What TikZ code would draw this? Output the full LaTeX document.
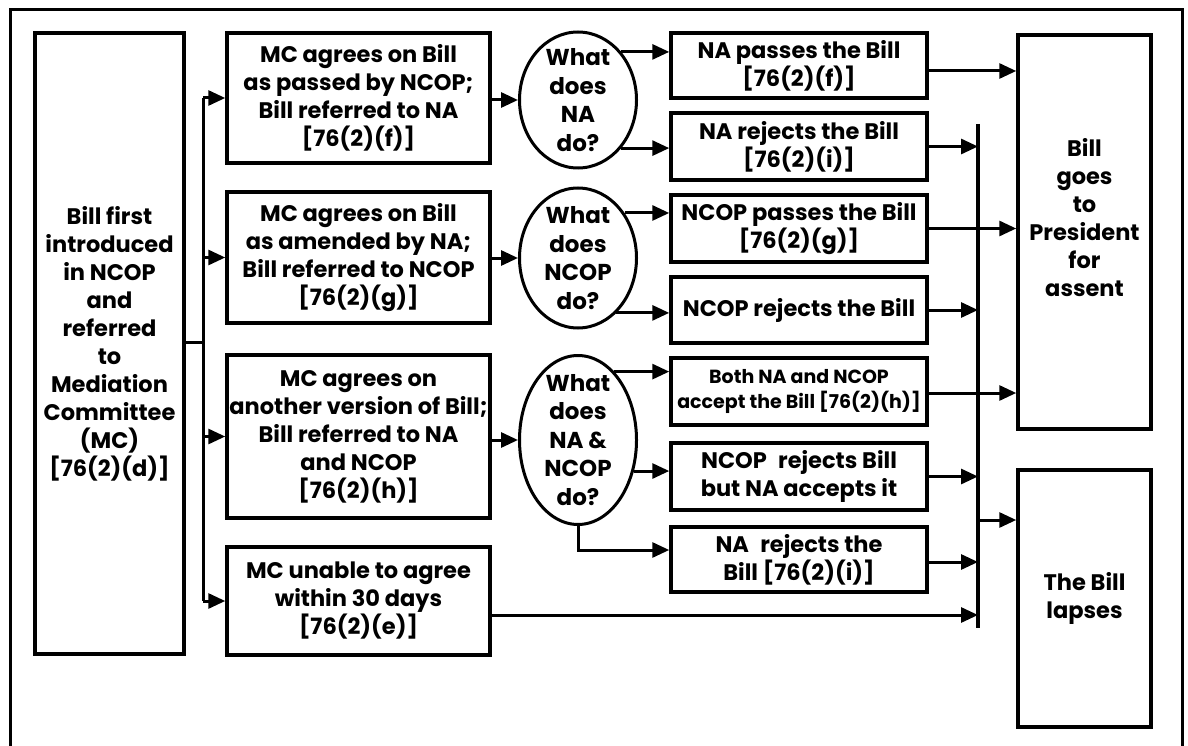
\documentclass[tikz,border=0pt]{standalone}
\usepackage{fontspec}
\setmainfont{Poppins}
\usetikzlibrary{shapes.geometric, arrows.meta, calc}

\begin{document}
\begin{tikzpicture}[
    x=1pt, y=-1pt,
    box/.style={rectangle, draw, line width=3.5pt, align=center, inner sep=0pt,
                font=\bfseries\fontsize{22.5}{28}\selectfont},
    outbox/.style={box, minimum width=256pt, minimum height=66pt},
    mcbox/.style={box, minimum width=263pt},
    query/.style={ellipse, draw, line width=3pt, align=center, inner sep=-12pt,
                  minimum width=117pt, font=\bfseries\fontsize{23}{28.5}\selectfont},
    arrow/.style={-{Triangle[length=17pt, width=15pt]}, line width=3pt},
    link/.style={line width=3pt},
    small/.style={font=\bfseries\fontsize{19}{25}\selectfont}
]
\useasboundingbox (0,0) rectangle (1188,746);

% Outer frame
\draw[line width=3pt] (10,746) -- (10,10) -- (1182,10) -- (1182,746);

% Starting box
\node[box, minimum width=149pt, minimum height=621pt] (start) at (109.5,343.5)
    {Bill first\\introduced\\in NCOP\\and\\referred\\to\\Mediation\\Committee\\(MC)\\{[76(2)(d)]}};

% Mediation Committee outcomes
\node[mcbox, minimum height=130pt] (mcna) at (358.5,98)
    {MC agrees on Bill\\as passed by NCOP;\\Bill referred to NA\\{[76(2)(f)]}};
\node[mcbox, minimum height=131pt] (mcncop) at (358.5,257.5)
    {MC agrees on Bill\\as amended by NA;\\Bill referred to NCOP\\{[76(2)(g)]}};
\node[mcbox, minimum height=163pt] (mcboth) at (358.5,436.5)
    {MC agrees on\\another version of Bill;\\Bill referred to NA\\and NCOP\\{[76(2)(h)]}};
\node[mcbox, minimum height=108pt] (mcfail) at (358.5,601)
    {MC unable to agree\\within 30 days\\{[76(2)(e)]}};

% Questions
\node[query, minimum height=136pt] (qna) at (578,100) {What\\does\\NA\\do?};
\node[query, minimum height=140pt] (qncop) at (578,258) {What\\does\\NCOP\\do?};
\node[query, minimum height=169pt] (qboth) at (578,440) {What\\does\\NA \&\\NCOP\\do?};

% Answers
\node[outbox, minimum height=65pt] (napass) at (799,65.5) {NA passes the Bill\\{[76(2)(f)]}};
\node[outbox, minimum height=67pt] (narej) at (799,146.5) {NA rejects the Bill\\{[76(2)(i)]}};
\node[outbox, minimum height=67pt] (ncpass) at (799,228.5) {NCOP passes the Bill\\{[76(2)(g)]}};
\node[outbox] (ncrej) at (799,310) {NCOP rejects the Bill};
\node[outbox, minimum height=67pt, small] (bothok) at (799,391.5) {Both NA and NCOP\\accept the Bill [76(2)(h)]};
\node[outbox, minimum height=67pt] (ncrejna) at (799,476.5) {NCOP\enspace rejects Bill\\but NA accepts it};
\node[outbox, minimum height=65pt] (narej2) at (799,559.5) {NA\enspace rejects the\\Bill [76(2)(i)]};

% Final results
\node[box, minimum width=133pt, minimum height=394pt] (assent) at (1084.5,232)
    {Bill\\goes\\to\\President\\for\\assent\\[2pt]};
\node[box, minimum width=133pt, minimum height=257pt] (lapse) at (1084.5,598.5)
    {The Bill\\lapses};

% Branch from the first box
\coordinate (trunk) at (203,342);
\draw[link] (start.east |- trunk) -- (trunk);
\draw[link] (mcna.west -| trunk) -- (mcfail.west -| trunk);
\draw[arrow] (mcna.west -| trunk) -- (mcna.west);
\draw[arrow] (mcncop.west -| trunk) -- (mcncop.west);
\draw[arrow] (mcboth.west -| trunk) -- (mcboth.west);
\draw[arrow] (mcfail.west -| trunk) -- (mcfail.west);

% Into the questions
\draw[arrow] (mcna.east |- qna.west) -- (qna.west);
\draw[arrow] (mcncop.east |- qncop.west) -- (qncop.west);
\draw[arrow] (mcboth.east |- qboth.west) -- (qboth.west);

% Out of the questions
\draw[arrow] (qna.48) -- (qna.48 -| napass.west);
\draw[arrow] (qna.-48) -- (qna.-48 -| narej.west);
\draw[arrow] (qncop.44) -- (qncop.44 -| ncpass.west);
\draw[arrow] (qncop.-55) -- (qncop.-55 -| ncrej.west);
\draw[arrow] (qboth.62) -- (qboth.62 -| bothok.west);
\draw[arrow] (qboth.-29) -- (qboth.-29 -| ncrejna.west);
\draw[arrow] (qboth.south) |- ([yshift=9.5pt]narej2.west);

% Collecting line for lapsed Bills
\coordinate (bustop) at (978,124);
\coordinate (busbot) at (978,628);
\coordinate (busout) at (978,520);
\draw[line width=3.5pt] (bustop) -- (busbot);
\draw[arrow] (narej.east) -- (narej.east -| bustop);
\draw[arrow] (ncrej.east) -- (ncrej.east -| bustop);
\draw[arrow] (ncrejna.east) -- (ncrejna.east -| bustop);
\draw[arrow] ([yshift=-2.5pt]narej2.east) -- ([yshift=-2.5pt]narej2.east -| bustop);
\draw[arrow] ([yshift=-14pt]mcfail.east) -- ([yshift=-14pt]mcfail.east -| bustop);
\draw[arrow] (busout) -- (busout -| lapse.west);

% Passed Bills to the President
\draw[arrow] ([yshift=-5.5pt]napass.east) -- ([yshift=-5.5pt]napass.east -| assent.west);
\draw[arrow] (ncpass.east) -- (ncpass.east -| assent.west);
\draw[arrow] ([yshift=-1.5pt]bothok.east) -- ([yshift=-1.5pt]bothok.east -| assent.west);

\end{tikzpicture}
\end{document}
